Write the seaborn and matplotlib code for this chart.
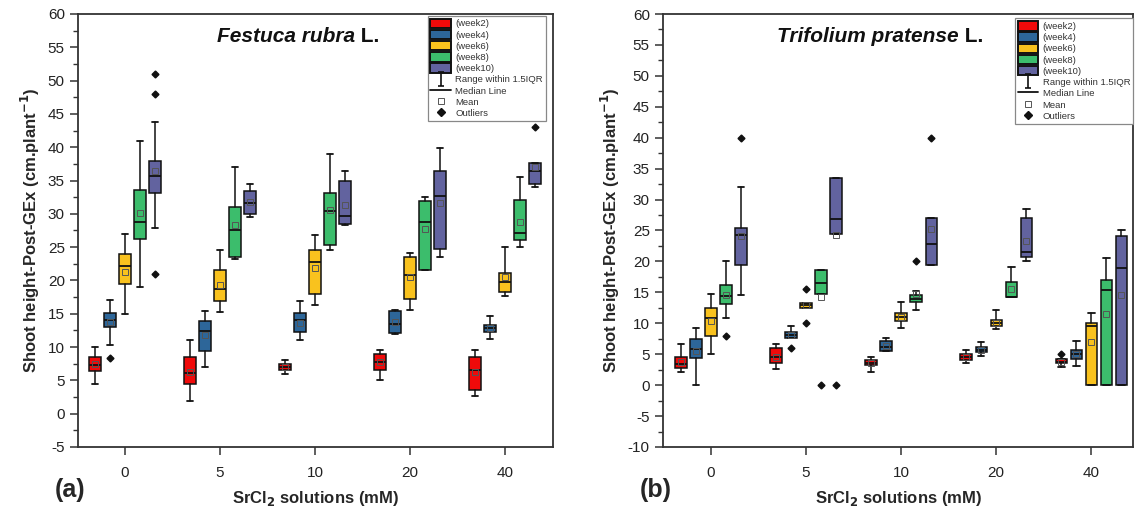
import numpy as np
import matplotlib
matplotlib.use("Agg")
import matplotlib.pyplot as plt
import matplotlib.patches as mpatches
from matplotlib.lines import Line2D
from matplotlib.path import Path
from matplotlib.ticker import MultipleLocator
import seaborn as sns

sns.set_theme(style="ticks")
plt.rcParams['font.family'] = ['Liberation Sans', 'DejaVu Sans']
plt.rcParams['axes.unicode_minus'] = False

concentrations = ["0", "5", "10", "20", "40"]
weeks = ["(week2)", "(week4)", "(week6)", "(week8)", "(week10)"]
colors = ["#F00A0A", "#2D6699", "#F9C21E", "#3CBD6C", "#62639F"]

# ---------------- Panel (a): Festuca rubra L. ----------------
a_q1 = [[6.45, 4.45, 6.5, 6.5, 3.5],
        [13.05, 9.45, 12.25, 12.05, 12.3],
        [19.45, 16.95, 17.95, 17.15, 18.25],
        [26.15, 23.5, 25.3, 21.5, 26.0],
        [33.2, 30.0, 28.5, 24.7, 34.5]]
a_med = [[7.3, 6.05, 7.0, 7.75, 6.5],
         [14.05, 12.4, 14.0, 13.4, 12.85],
         [22.1, 18.65, 22.75, 20.85, 19.75],
         [28.85, 27.6, 30.5, 28.8, 27.1],
         [35.75, 31.6, 29.75, 32.7, 36.5]]
a_q3 = [[8.45, 8.45, 7.5, 9.0, 8.5],
        [15.1, 13.95, 15.15, 15.4, 13.25],
        [24.0, 21.5, 24.5, 23.5, 21.15],
        [33.65, 31.0, 33.1, 32.0, 32.1],
        [37.95, 33.5, 34.95, 36.4, 37.65]]
a_wlo = [[4.45, 1.95, 6.0, 5.0, 2.6],
         [10.3, 6.95, 11.0, 12.0, 11.2],
         [14.95, 15.25, 16.35, 15.5, 17.6],
         [18.95, 23.25, 24.55, 21.5, 25.0],
         [27.9, 29.5, 28.4, 23.5, 34.0]]
a_whi = [[10.05, 11.05, 8.1, 9.55, 9.55],
         [17.05, 15.45, 16.85, 15.5, 14.65],
         [26.95, 24.6, 26.75, 24.15, 25.0],
         [40.9, 37.1, 38.95, 32.5, 35.6],
         [43.85, 34.5, 36.5, 39.95, 37.65]]
a_mean = [[7.5, 6.2, 7.0, 7.7, 6.2],
          [13.8, 11.85, 13.6, 13.75, 12.8],
          [21.2, 19.35, 21.9, 20.5, 20.5],
          [30.2, 28.35, 30.6, 27.7, 28.85],
          [36.45, 31.85, 31.4, 31.7, 37.1]]
a_out = [[[], [], [], [], []],
         [[8.35], [], [], [], []],
         [[], [], [], [], []],
         [[], [], [], [], []],
         [[51, 48, 21], [], [], [], [43]]]

# ---------------- Panel (b): Trifolium pratense L. ----------------
b_q1 = [[2.8, 3.5, 3.25, 4.05, 3.55],
        [4.4, 7.65, 5.5, 5.3, 4.3],
        [8.0, 12.55, 10.4, 9.55, 0],
        [13.05, 14.8, 13.5, 14.3, 0],
        [19.5, 24.5, 19.4, 20.75, 0]]
b_med = [[3.35, 4.5, 3.5, 4.5, 3.8],
         [5.9, 8.1, 6.2, 5.7, 5.0],
         [10.8, 12.9, 11.05, 10.1, 9.55],
         [14.45, 16.55, 14.0, 14.3, 15.35],
         [24.3, 26.85, 22.8, 21.55, 18.9]]
b_q3 = [[4.58, 6.05, 4.05, 5.0, 4.15],
        [7.4, 8.6, 7.2, 6.1, 5.65],
        [12.4, 13.3, 11.7, 10.6, 10.1],
        [16.2, 18.6, 14.55, 16.6, 17.0],
        [25.45, 33.5, 26.95, 26.95, 24.1]]
b_wlo = [[2.05, 2.6, 2.05, 3.5, 2.95],
         [0, 7.6, 5.5, 4.75, 3.1],
         [5.1, 12.55, 9.3, 9.0, 0],
         [10.9, 14.8, 12.2, 14.3, 0],
         [14.55, 24.5, 19.4, 20.05, 0]]
b_whi = [[6.6, 6.6, 4.6, 5.65, 4.15],
         [9.3, 9.55, 7.7, 7.0, 7.1],
         [14.8, 13.3, 13.5, 12.1, 11.6],
         [20.1, 18.6, 15.2, 19.1, 20.6],
         [32.0, 33.5, 26.95, 28.55, 25.1]]
b_mean = [[3.7, 4.6, 3.6, 4.5, 3.8],
          [5.6, 8.1, 6.3, 5.7, 5.1],
          [10.4, 12.9, 11.0, 10.1, 6.9],
          [14.6, 14.2, 14.8, 15.6, 11.5],
          [24.1, 24.2, 25.2, 23.3, 14.55]]
b_out = [[[], [], [], [], [5.1]],
         [[], [6.0], [], [], []],
         [[], [15.6, 10.0], [], [], []],
         [[8.0], [0], [20.0], [], []],
         [[40], [0], [40], [], []]]

fig = plt.figure(figsize=(11.36, 5.15), dpi=100)
axA = fig.add_axes([78/1136, 68/515, 475/1136, 433/515])
axB = fig.add_axes([663/1136, 68/515, 470/1136, 433/515])

offset = 0.158
bw = 0.118


def draw_panel(ax, q1, med, q3, wlo, whi, mean, out, leg_anchor):
    for w in range(len(weeks)):
        stats = []
        for c in range(len(concentrations)):
            stats.append(dict(q1=q1[w][c], med=med[w][c], q3=q3[w][c],
                              whislo=wlo[w][c], whishi=whi[w][c],
                              mean=mean[w][c], fliers=np.array(out[w][c], dtype=float)))
        pos = np.arange(len(concentrations)) + (w - 2) * offset
        ax.bxp(stats, positions=pos, widths=bw, patch_artist=True,
               showmeans=True, showfliers=True, capwidths=bw * 0.6,
               manage_ticks=False,
               boxprops=dict(facecolor=colors[w], edgecolor='#111111', linewidth=1.1),
               medianprops=dict(color='#111111', linewidth=1.3),
               whiskerprops=dict(color='#111111', linewidth=1.1),
               capprops=dict(color='#111111', linewidth=1.3),
               meanprops=dict(marker='s', markerfacecolor='none', markeredgecolor='#555555',
                              markeredgewidth=0.7, markersize=4),
               flierprops=dict(marker='D', markerfacecolor='#111111', markeredgecolor='#111111',
                               markersize=3.5))
    ax.set_xticks(range(len(concentrations)))
    ax.set_xticklabels(concentrations)
    ax.yaxis.set_minor_locator(MultipleLocator(2.5))
    ax.yaxis.set_major_locator(MultipleLocator(5))
    ax.tick_params(axis='both', which='major', length=6, width=1.1, color='#333333',
                   labelsize=11, labelcolor='#222222', direction='out')
    ax.tick_params(axis='x', pad=8)
    ax.tick_params(axis='y', which='minor', length=3.5, width=1.0, color='#333333', left=True)
    ax.tick_params(axis='x', which='minor', bottom=False)
    for s in ax.spines.values():
        s.set_color('#333333')
        s.set_linewidth(1.3)
    ax.set_xlabel(r"SrCl$_\mathbf{2}$ solutions (mM)", fontsize=12, fontweight='bold', labelpad=6)
    ax.set_ylabel(r"Shoot height-Post-GEx (cm.plant$^{\mathbf{-1}}$)", fontsize=12,
                  fontweight='bold', labelpad=4)

    I_path = Path([(-0.5, 1), (0.5, 1), (0, 1), (0, -1), (-0.5, -1), (0.5, -1)],
                  [Path.MOVETO, Path.LINETO, Path.MOVETO, Path.LINETO, Path.MOVETO, Path.LINETO])
    handles = [mpatches.Patch(facecolor=colors[i], edgecolor='#111111', linewidth=1.4)
               for i in range(len(weeks))]
    handles += [Line2D([], [], ls='none', marker=I_path, markersize=10, color='#111111', mew=1.2),
                Line2D([], [], color='#111111', lw=1.3),
                Line2D([], [], ls='none', marker='s', markersize=4, markerfacecolor='white',
                       markeredgecolor='#555555', markeredgewidth=0.7),
                Line2D([], [], ls='none', marker='D', markersize=4, color='#111111')]
    labels = weeks + ["Range within 1.5IQR", "Median Line", "Mean", "Outliers"]
    leg = ax.legend(handles, labels, loc='upper right', bbox_to_anchor=leg_anchor,
                    fontsize=6.8, frameon=True, fancybox=False, framealpha=1,
                    borderpad=0.3, labelspacing=0.14, handlelength=2.2, handleheight=1.15,
                    handletextpad=0.45, borderaxespad=0.0)
    leg.get_frame().set_edgecolor('#888888')
    leg.get_frame().set_linewidth(0.9)
    for t in leg.get_texts():
        t.set_color('#333333')


draw_panel(axA, a_q1, a_med, a_q3, a_wlo, a_whi, a_mean, a_out, (0.985, 0.996))
axA.set_xlim(-0.495, 4.505)
axA.set_ylim(-5, 60)
draw_panel(axB, b_q1, b_med, b_q3, b_wlo, b_whi, b_mean, b_out, (1.0, 0.99))
axB.set_xlim(-0.505, 4.44)
axB.set_ylim(-10, 60)


def species_title(ax, genus, x):
    t = ax.text(x, 0.947, genus, transform=ax.transAxes, fontsize=15,
                fontweight='bold', fontstyle='italic', va='center', ha='left', color='#111111')
    ax.annotate(" L.", xy=(1, 0), xycoords=t, va='bottom', ha='left', fontsize=15,
                fontweight='bold', color='#111111')


species_title(axA, "Festuca rubra", 0.293)
species_title(axB, "Trifolium pratense", 0.243)

fig.text(55/1136, 1 - 490/515, "(a)", fontsize=18, fontweight='bold', va='center', ha='left')
fig.text(640/1136, 1 - 490/515, "(b)", fontsize=18, fontweight='bold', va='center', ha='left')

fig.savefig("out.png", dpi=100)
